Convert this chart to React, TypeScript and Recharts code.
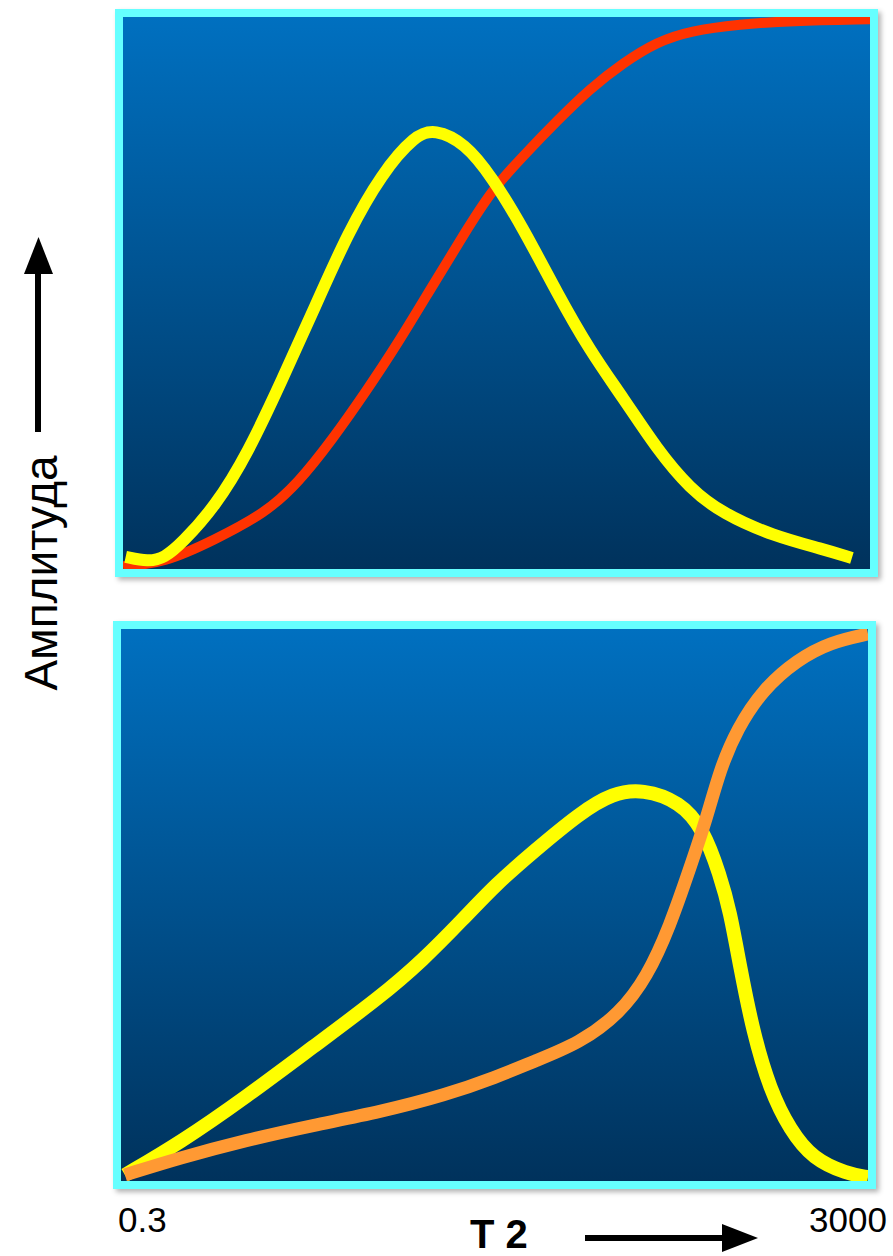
import { LineChart, Line, XAxis, YAxis } from 'recharts';

// T2 axis runs on a log scale from 0.3 to 3000, amplitude is relative (0-100)
const T2_RANGE = [0.3, 3000];
const T2_TICKS = ['0.3', '3000'];
const Y_LABEL = 'Амплитуда';
const X_LABEL = 'T 2';

// upper panel
const topBellT2 = [0.31, 0.41, 0.5, 0.62, 0.93, 1.4, 2.13, 3.2, 4.8, 7.3, 11, 14, 20.3, 28.4, 41.6, 63.3, 95, 143, 217, 326, 490, 907, 1680, 2400];
const topBellAmp = [2.2, 1.3, 2.0, 4.7, 11.2, 21.0, 34.2, 47.5, 60.9, 71.7, 78.6, 79.7, 77.2, 71.0, 61.8, 50.0, 39.5, 31.0, 21.7, 14.5, 10.0, 6.0, 3.6, 2.0];
const topRiseT2 = [0.3, 0.5, 0.93, 1.73, 2.6, 3.95, 5.93, 8.9, 13.5, 20.3, 28.4, 41.6, 63.3, 95, 143, 217, 326, 604, 1120, 3000];
const topRiseAmp = [0.5, 1.1, 5.3, 10.1, 15.6, 23.4, 31.9, 40.9, 51.1, 60.9, 68.7, 74.8, 81.2, 87.0, 91.7, 95.5, 97.5, 98.7, 99.3, 99.6];

// lower panel
const lowBellT2 = [0.315, 0.62, 1.4, 3.2, 7.31, 12.4, 20.3, 30.6, 48.2, 86.1, 129, 187, 295, 392, 484, 547, 619, 727, 896, 1150, 1520, 2320, 3000];
const lowBellAmp = [1.1, 6.9, 15.2, 24.3, 33.3, 40.0, 47.4, 53.8, 59.6, 66.7, 70.3, 71.0, 68.7, 63.9, 55.4, 48.9, 38.9, 27.0, 16.5, 9.2, 4.0, 1.3, 0.7];
const lowRiseT2 = [0.315, 0.62, 1.4, 3.2, 7.31, 16.5, 30.6, 48.2, 86.1, 141, 197, 261, 334, 412, 484, 597, 822, 1250, 1880, 3000];
const lowRiseAmp = [1.1, 4.2, 7.4, 10.1, 12.5, 15.6, 18.8, 21.6, 25.0, 30.4, 37.0, 46.2, 56.7, 65.9, 74.6, 81.9, 89.1, 94.4, 97.6, 99.1];

type Pt = { t2: number; amp: number };
const zip = (t2: number[], amp: number[]): Pt[] => t2.map((t, i) => ({ t2: t, amp: amp[i] }));

interface Series {
  name: string;
  points: Pt[];
  color: string;
  width: number;
}

const FONT = "'Liberation Sans', Arial, sans-serif";

function Panel({ left, top, series }: { left: number; top: number; series: Series[] }) {
  return (
    <div
      style={{
        position: 'absolute',
        left,
        top,
        width: 763,
        height: 568,
        boxSizing: 'border-box',
        border: '8px solid #66FFFF',
        background: 'linear-gradient(#0070C0, #00325C)',
        boxShadow: '3px 3px 5px rgba(0,0,0,0.3)',
      }}
    >
      <LineChart width={747} height={552} margin={{ top: 0, right: 0, bottom: 0, left: 0 }}>
        <XAxis
          hide
          type="number"
          dataKey="t2"
          scale="log"
          domain={T2_RANGE}
          allowDataOverflow
        />
        <YAxis hide type="number" domain={[0, 100]} allowDataOverflow />
        {series.map((s) => (
          <Line
            key={s.name}
            data={s.points}
            dataKey="amp"
            type="basis"
            stroke={s.color}
            strokeWidth={s.width}
            dot={false}
            activeDot={false}
            isAnimationActive={false}
          />
        ))}
      </LineChart>
    </div>
  );
}

export default function App() {
  const upper: Series[] = [
    { name: 'rise', points: zip(topRiseT2, topRiseAmp), color: '#FF3300', width: 10 },
    { name: 'bell', points: zip(topBellT2, topBellAmp), color: '#FFFF00', width: 12 },
  ];
  const lower: Series[] = [
    { name: 'bell', points: zip(lowBellT2, lowBellAmp), color: '#FFFF00', width: 14 },
    { name: 'rise', points: zip(lowRiseT2, lowRiseAmp), color: '#FF9933', width: 13 },
  ];

  return (
    <div style={{ position: 'absolute', left: 0, top: 0, width: 893, height: 1256, background: '#fff' }}>
      <Panel left={115} top={9} series={upper} />
      <Panel left={113} top={621} series={lower} />
      <svg width={893} height={1256} style={{ position: 'absolute', left: 0, top: 0, pointerEvents: 'none' }}>
        {/* y label with arrow */}
        <text
          x={57}
          y={573}
          transform="rotate(-90, 57, 573)"
          textAnchor="middle"
          fontFamily={FONT}
          fontSize={46}
          fill="#000"
        >
          {Y_LABEL}
        </text>
        <line x1={38} y1={432} x2={38} y2={270} stroke="#000" strokeWidth={6} />
        <polygon points="24,274 53,274 38.5,237" fill="#000" />

        {/* x tick labels */}
        <text x={118} y={1232} fontFamily={FONT} fontSize={35} fill="#000">
          {T2_TICKS[0]}
        </text>
        <text x={809} y={1232} fontFamily={FONT} fontSize={35} fill="#000">
          {T2_TICKS[1]}
        </text>

        {/* x label with arrow */}
        <text x={470} y={1248} fontFamily={FONT} fontSize={40} fontWeight="bold" fill="#000">
          {X_LABEL}
        </text>
        <line x1={585} y1={1238} x2={725} y2={1238} stroke="#000" strokeWidth={6} />
        <polygon points="722,1224 722,1252 758,1238" fill="#000" />
      </svg>
    </div>
  );
}
